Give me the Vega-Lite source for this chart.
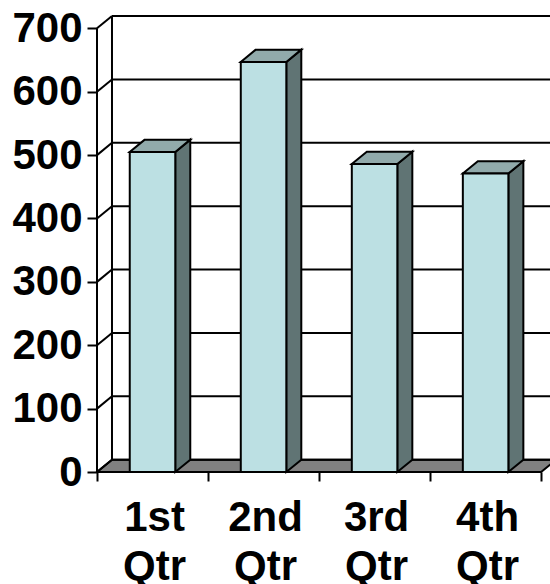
{
  "$schema": "https://vega.github.io/schema/vega-lite/v6.json",
  "description": "Quarterly totals as 3-D style columns on a floor with a back wall.",
  "autosize": {"type": "none"},
  "padding": {"left": 97, "top": 3, "right": 0, "bottom": 112},
  "width": 453,
  "height": 469,
  "background": "white",
  "config": {
    "view": {"stroke": null},
    "axis": {
      "labelFont": "Liberation Sans",
      "labelFontSize": 42,
      "labelFontWeight": "bold",
      "labelColor": "black",
      "tickColor": "black",
      "tickWidth": 2,
      "domain": false,
      "grid": false
    }
  },
  "params": [
    {"name": "dx", "value": 0.135},
    {"name": "dy", "value": 19.4}
  ],
  "datasets": {
    "sales": [
      {"quarter": "1st Qtr", "value": 505},
      {"quarter": "2nd Qtr", "value": 647},
      {"quarter": "3rd Qtr", "value": 486},
      {"quarter": "4th Qtr", "value": 471}
    ],
    "ticks": [
      {"v": 0}, {"v": 100}, {"v": 200}, {"v": 300},
      {"v": 400}, {"v": 500}, {"v": 600}, {"v": 700}
    ]
  },
  "layer": [
    {
      "data": {"values": [{}]},
      "transform": [
        {"calculate": "[0, 1]", "as": "k"},
        {"flatten": ["k"]},
        {"calculate": "datum.k * dy", "as": "fy"},
        {"calculate": "datum.k * dx", "as": "fx0"},
        {"calculate": "4 + datum.k * dx", "as": "fx1"}
      ],
      "mark": {"type": "area", "orient": "horizontal", "fill": "#808080", "stroke": "black", "strokeWidth": 2},
      "encoding": {
        "y": {
          "field": "fy",
          "type": "quantitative",
          "scale": {"domain": [0, 740], "nice": false, "zero": false},
          "axis": {"values": [0, 100, 200, 300, 400, 500, 600, 700], "tickSize": 10, "labelPadding": 5, "title": null}
        },
        "x": {
          "field": "fx0",
          "type": "quantitative",
          "scale": {"domain": [0, 4.08], "nice": false, "zero": false},
          "axis": {"values": [0, 1, 2, 3, 4], "labels": false, "tickSize": 9, "title": null}
        },
        "x2": {"field": "fx1"}
      }
    },
    {
      "data": {"name": "ticks"},
      "transform": [
        {"calculate": "datum.v + dy", "as": "gy"},
        {"calculate": "dx", "as": "gx0"},
        {"calculate": "4.3", "as": "gx1"}
      ],
      "mark": {"type": "rule", "color": "black", "strokeWidth": 2},
      "encoding": {
        "y": {"field": "gy", "type": "quantitative"},
        "x": {"field": "gx0", "type": "quantitative"},
        "x2": {"field": "gx1"}
      }
    },
    {
      "data": {"name": "ticks"},
      "transform": [
        {"calculate": "datum.v + dy", "as": "gy"},
        {"calculate": "dx", "as": "gx"},
        {"calculate": "0", "as": "fx"}
      ],
      "mark": {"type": "rule", "color": "black", "strokeWidth": 2},
      "encoding": {
        "x": {"field": "fx", "type": "quantitative"},
        "y": {"field": "v", "type": "quantitative"},
        "x2": {"field": "gx"},
        "y2": {"field": "gy"}
      }
    },
    {
      "data": {"name": "ticks"},
      "transform": [
        {"aggregate": [{"op": "min", "field": "v", "as": "bot"}, {"op": "max", "field": "v", "as": "top"}]},
        {"calculate": "[0, 1]", "as": "k"},
        {"flatten": ["k"]},
        {"calculate": "datum.k * dx", "as": "wx"},
        {"calculate": "datum.bot + datum.k * dy", "as": "wy0"},
        {"calculate": "datum.top + datum.k * dy", "as": "wy1"}
      ],
      "mark": {"type": "rule", "color": "black", "strokeWidth": 2},
      "encoding": {
        "x": {"field": "wx", "type": "quantitative"},
        "y": {"field": "wy0", "type": "quantitative"},
        "y2": {"field": "wy1"}
      }
    },
    {
      "data": {"name": "sales"},
      "transform": [
        {"window": [{"op": "row_number", "as": "n"}]},
        {"calculate": "[0, 1]", "as": "k"},
        {"flatten": ["k"]},
        {"calculate": "datum.n - 1 + 0.705 + datum.k * dx", "as": "sx"},
        {"calculate": "datum.k * dy", "as": "sy0"},
        {"calculate": "datum.value + datum.k * dy", "as": "sy1"}
      ],
      "mark": {"type": "area", "fill": "#607474", "stroke": "black", "strokeWidth": 2},
      "encoding": {
        "x": {"field": "sx", "type": "quantitative"},
        "y": {"field": "sy1", "type": "quantitative"},
        "y2": {"field": "sy0"},
        "detail": {"field": "quarter"}
      }
    },
    {
      "data": {"name": "sales"},
      "transform": [
        {"window": [{"op": "row_number", "as": "n"}]},
        {"calculate": "[0, 1]", "as": "k"},
        {"flatten": ["k"]},
        {"calculate": "datum.value + datum.k * dy", "as": "ty"},
        {"calculate": "datum.n - 1 + 0.295 + datum.k * dx", "as": "tx0"},
        {"calculate": "datum.n - 1 + 0.705 + datum.k * dx", "as": "tx1"}
      ],
      "mark": {"type": "area", "orient": "horizontal", "fill": "#91AAAB", "stroke": "black", "strokeWidth": 2},
      "encoding": {
        "y": {"field": "ty", "type": "quantitative"},
        "x": {"field": "tx0", "type": "quantitative"},
        "x2": {"field": "tx1"},
        "detail": {"field": "quarter"}
      }
    },
    {
      "data": {"name": "sales"},
      "transform": [
        {"window": [{"op": "row_number", "as": "n"}]},
        {"calculate": "datum.n - 1 + 0.295", "as": "bx0"},
        {"calculate": "datum.n - 1 + 0.705", "as": "bx1"}
      ],
      "mark": {"type": "rect", "fill": "#BCE0E3", "stroke": "black", "strokeWidth": 2},
      "encoding": {
        "x": {"field": "bx0", "type": "quantitative"},
        "x2": {"field": "bx1"},
        "y": {"field": "value", "type": "quantitative"},
        "y2": {"datum": 0}
      }
    },
    {
      "data": {"name": "sales"},
      "transform": [
        {"window": [{"op": "row_number", "as": "n"}]},
        {"calculate": "datum.n - 0.5", "as": "cx"}
      ],
      "mark": {
        "type": "text",
        "font": "Liberation Sans",
        "fontSize": 42,
        "fontWeight": "bold",
        "color": "black",
        "baseline": "top",
        "align": "center",
        "lineBreak": " ",
        "lineHeight": 49,
        "dy": 26,
        "dx": 2
      },
      "encoding": {
        "x": {"field": "cx", "type": "quantitative"},
        "y": {"datum": 0, "type": "quantitative"},
        "text": {"field": "quarter"}
      }
    }
  ]
}
